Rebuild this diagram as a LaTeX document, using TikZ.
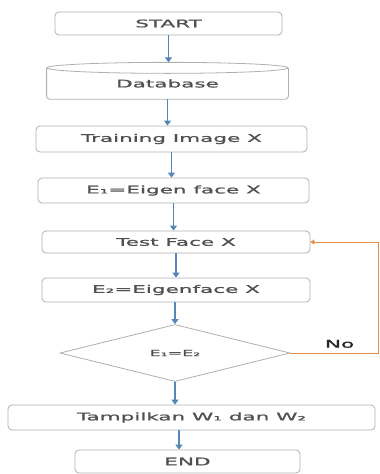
\documentclass[tikz,border=0pt]{standalone}
\usepackage{fontspec}
\newfontfamily\flowfont[FakeStretch=2.05,FakeBold=1.3]{DejaVu Sans}
\usetikzlibrary{shapes.geometric,arrows.meta}
\definecolor{boxgray}{RGB}{175,175,175}
\definecolor{txtgray}{RGB}{80,80,80}
\definecolor{flowblue}{RGB}{84,134,185}
\definecolor{looporange}{RGB}{226,140,72}
\begin{document}
\begin{tikzpicture}[x=1pt,y=-1pt,
    box/.style={draw=boxgray,line width=0.8pt,rounded corners=4pt,inner sep=0pt,
      font=\flowfont\fontsize{10.5}{13}\selectfont,text=txtgray},
    flow/.style={draw=flowblue,line width=1.1pt,-{Triangle[width=7pt,length=5pt]}},
    back/.style={draw=looporange,line width=0.9pt,-{Triangle[width=5pt,length=4pt]}}]
  \useasboundingbox (0,0) rectangle (380,474);
  \node[box,minimum width=227pt,minimum height=23pt] (start) at (168.5,23.5) {START};
  \node[box,draw=none,minimum width=241pt,minimum height=30.5pt] (db) at (167.5,83.5) {Database};
  \draw[boxgray,line width=0.8pt,rounded corners=3pt] (db.north west) -- (db.south west)
    -- (db.south east) -- (db.north east);
  \draw[boxgray,line width=0.8pt] (db.north) ellipse [x radius=120.5pt,y radius=5.5pt];
  \coordinate (dbtop) at ([yshift=5.5pt]db.north);
  \node[box,minimum width=271pt,minimum height=26pt] (train) at (171.5,139) {Training Image X};
  \node[box,minimum width=271pt,minimum height=25pt] (eig1) at (173.5,190.5) {E₁=Eigen face X};
  \node[box,minimum width=268pt,minimum height=22pt] (test) at (176,242) {Test Face X};
  \node[box,minimum width=268pt,minimum height=24pt] (eig2) at (176,290) {E₂=Eigenface X};
  \node[box,shape=diamond,rounded corners=0pt,aspect=4,minimum width=230pt,minimum height=57pt,
    font=\flowfont\fontsize{8.5}{10}\selectfont] (cmp) at (175,353) {E₁=E₂};
  \node[box,minimum width=367pt,minimum height=25pt] (show) at (191.5,417.5) {Tampilkan W₁ dan W₂};
  \node[box,minimum width=225pt,minimum height=23pt] (end) at (187.5,461.5) {END};
  \coordinate (loopc) at (378,353);
  \draw[flow] (start.south) -- (start.south |- dbtop);
  \draw[flow] (db.south) -- (db.south |- train.north);
  \draw[flow] (train.south) -- (train.south |- eig1.north);
  \draw[flow] (eig1.south) -- (eig1.south |- test.north);
  \draw[flow] (test.south) -- (test.south |- eig2.north);
  \draw[flow] (eig2.south -| cmp.north) -- (cmp.north);
  \draw[flow] (cmp.south) -- (cmp.south |- show.north);
  \draw[flow] ([xshift=4pt]cmp.south |- show.south) -- ([xshift=4pt]cmp.south |- end.north);
  \draw[back] (cmp.east) -- (loopc) |- (test.east)
    node[pos=0.02,above left,font=\flowfont\fontsize{10.5}{13}\selectfont,text=black!85,
      xshift=-20pt,yshift=-3pt] {No};
\end{tikzpicture}
\end{document}
